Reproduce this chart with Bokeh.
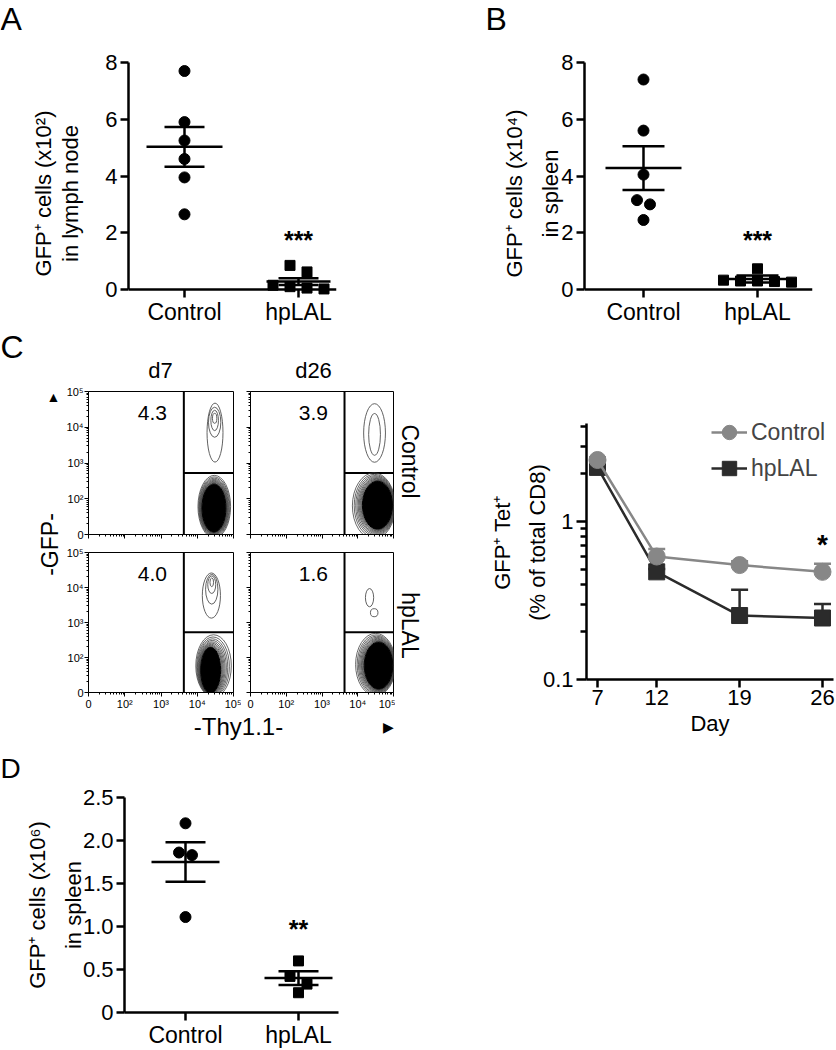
import numpy as np
from bokeh.plotting import figure
from bokeh.models import (Range1d, FixedTicker, Label, Legend, LegendItem,
                          Whisker, TeeHead, ColumnDataSource)
from bokeh.layouts import row, column
from bokeh.embed import file_html
from bokeh.resources import INLINE

FONT = "Liberation Sans"
GRAY = "#878787"
DARK = "#2b2b2b"

# ---------------- data ----------------
groups = ["Control", "hpLAL"]

a_ctrl = [7.7, 5.9, 5.25, 4.6, 3.95, 2.65]
a_hp = [0.85, 0.62, 0.15, 0.10, 0.05, 0.02]
a_mean = [5.03, 0.28]
a_sem = [0.70, 0.12]

b_ctrl = [7.4, 5.6, 4.05, 3.15, 3.0, 2.45]
b_hp = [0.73, 0.33, 0.30, 0.30, 0.28, 0.26]
b_mean = [4.28, 0.37]
b_sem = [0.77, 0.12]

d_ctrl = [2.2, 1.86, 1.83, 1.11]
d_hp = [0.60, 0.42, 0.33, 0.23]
d_mean = [1.75, 0.40]
d_sem = [0.23, 0.08]

days = [7, 12, 19, 26]
tet_ctrl = [2.45, 0.60, 0.53, 0.48]
tet_ctrl_up = [2.55, 0.67, 0.56, 0.54]
tet_hp = [2.20, 0.48, 0.254, 0.245]
tet_hp_up = [2.30, 0.50, 0.37, 0.30]

flow_days = ["d7", "d26"]
flow_rows = ["Control", "hpLAL"]
flow_pct = [["4.3", "3.9"], ["4.0", "1.6"]]
flow_tick_labels = ["0", "10²", "10³", "10⁴", "10⁵"]
gate_x = 2.63
gate_y = 1.72
# contour ellipses (cx, cy, w, h) in decade units
up_d7_ctrl = [(3.49, 2.85, 0.44, 1.65), (3.48, 3.14, 0.34, 0.84),
              (3.48, 3.19, 0.21, 0.57), (3.48, 3.25, 0.12, 0.28)]
lo_d7_ctrl = [(3.47, 0.78, 0.90, 1.75), (3.46, 0.74, 0.66, 1.35)]
up_d26_ctrl = [(3.47, 2.84, 0.61, 1.64), (3.47, 2.80, 0.33, 1.17)]
lo_d26_ctrl = [(3.45, 0.80, 1.20, 1.85), (3.55, 0.82, 0.84, 1.35)]
up_d7_hp = [(3.39, 2.77, 0.50, 1.29), (3.40, 2.95, 0.34, 0.85),
            (3.40, 3.08, 0.22, 0.50), (3.40, 3.15, 0.10, 0.25)]
lo_d7_hp = [(3.45, 0.76, 0.98, 1.78), (3.37, 0.64, 0.55, 1.32)]
up_d26_hp = [(3.33, 2.71, 0.23, 0.52), (3.46, 2.28, 0.21, 0.23)]
lo_d26_hp = [(3.50, 0.80, 1.12, 1.78), (3.58, 0.77, 0.80, 1.35)]


# ---------------- helpers ----------------
def swarm(vals, ppu_y, ppu_x, d, thr):
    vals = np.asarray(vals, float)
    order = np.argsort(-vals)
    offs = np.zeros(len(vals))
    clusters, cur = [], [order[0]]
    for i in order[1:]:
        if abs(vals[cur[-1]] - vals[i]) * ppu_y < thr:
            cur.append(i)
        else:
            clusters.append(cur)
            cur = [i]
    clusters.append(cur)
    for c in clusters:
        n = len(c)
        for k, i in enumerate(c):
            offs[i] = (k - (n - 1) / 2) * d / ppu_x
    return offs


def base_fig(W, H, bl, br, bt, bb, xr, yr, **kw):
    p = figure(width=W, height=H, x_range=Range1d(*xr), y_range=Range1d(*yr),
               output_backend="svg", toolbar_location=None, title=None,
               min_border_left=bl, min_border_right=br, min_border_top=bt,
               min_border_bottom=bb, frame_align=False, **kw)
    p.grid.visible = False
    p.outline_line_color = None
    return p


def blank_fig(W, H):
    p = figure(width=W, height=H, x_range=Range1d(0, 1), y_range=Range1d(0, 1),
               x_axis_type=None, y_axis_type=None, min_border=0,
               min_border_left=0, min_border_right=0, min_border_top=0,
               min_border_bottom=0, frame_align=False,
               output_backend="svg", toolbar_location=None, title=None)
    p.grid.visible = False
    p.outline_line_color = None
    return p


def lab(p, x, y, text, size, units="screen", align="center", baseline="middle",
        angle=0.0, style="normal", color="black"):
    p.add_layout(Label(x=x, y=y, x_units=units, y_units=units, text=text,
                       text_font=FONT, text_font_size=size, text_align=align,
                       text_baseline=baseline, angle=angle, text_font_style=style,
                       text_color=color))


def style_axis(ax, lw=2.5, tick=8, lh=1.1):
    ax.axis_line_width = lw
    ax.axis_line_color = "black"
    ax.major_tick_line_width = lw
    ax.major_tick_line_color = "black"
    ax.major_tick_out = tick
    ax.major_tick_in = 0
    ax.major_label_text_font = FONT
    ax.major_label_text_color = "black"
    ax.axis_label_text_font = FONT
    ax.axis_label_text_font_style = "normal"
    ax.axis_label_text_font_size = "22px"
    ax.axis_label_text_color = "black"
    ax.axis_label_text_line_height = lh


def dot_panel(ctrl, hp, mean, sem, mean_w, sem_w, yticks, yover, ylabel, stars,
              star_y, W, H, bl, br, bt, bb, xr, yr, ybounds, ppu_x, ppu_y,
              ylab_standoff, ylab_lh):
    p = base_fig(W, H, bl, br, bt, bb, xr, yr)
    xa, ya = p.xaxis[0], p.yaxis[0]
    style_axis(xa)
    style_axis(ya, lh=ylab_lh)
    xa.ticker = FixedTicker(ticks=[1, 2])
    xa.major_label_overrides = {1: groups[0], 2: groups[1]}
    xa.minor_tick_line_color = None
    xa.major_label_text_font_size = "23px"
    xa.major_label_standoff = 1
    ya.ticker = FixedTicker(ticks=yticks)
    ya.minor_tick_line_color = None
    if yover:
        ya.major_label_overrides = yover
    ya.bounds = ybounds
    ya.major_label_text_font_size = "22px"
    ya.major_label_standoff = 3
    ya.axis_label = ylabel
    ya.axis_label_standoff = ylab_standoff
    if yr[0] < 0:
        xa.fixed_location = 0

    cx = 1 + swarm(ctrl, ppu_y, ppu_x, 13, 9)
    hx = 2 + swarm(hp, ppu_y, ppu_x, 17, 8)
    p.scatter(cx, ctrl, marker="circle", size=11, color="black")
    p.scatter(hx, hp, marker="square", size=10, color="black")
    lo = [m - s for m, s in zip(mean, sem)]
    hi = [m + s for m, s in zip(mean, sem)]
    p.segment(x0=[1, 2], y0=lo, x1=[1, 2], y1=hi, line_width=2.5, line_color="black")
    p.scatter([1, 2], mean, marker="dash", size=mean_w, line_width=2.5,
              line_color="black")
    p.scatter([1, 2, 1, 2], lo + hi, marker="dash", size=sem_w + sem_w,
              line_width=2.5, line_color="black")
    lab(p, 2, star_y, stars, "25px", units="data", style="bold")
    return p


# ---------------- row 1: panels A and B ----------------
strip_AB = blank_fig(836, 36)
lab(strip_AB, 0, 18, "A", "32px", align="left")
lab(strip_AB, 485, 18, "B", "32px", align="left")

pA = dot_panel(a_ctrl, a_hp, a_mean, a_sem, [76, 64], [40, 40],
               [0, 2, 4, 6, 8], None, "GFP⁺ cells (x10²)\nin lymph node",
               "***", 1.73,
               420, 292, 128, 84, 26, 4, (0.5088, 2.3333), (-1.233, 8.0), (0, 8),
               114.0, 28.375, 19, 1.1)

pB = dot_panel(b_ctrl, b_hp, b_mean, b_sem, [76, 70], [42, 42],
               [0, 2, 4, 6, 8], None, "GFP⁺ cells (x10⁴)\nin spleen",
               "***", 1.73,
               416, 292, 164, 24, 26, 4, (0.4825, 2.4825), (-1.233, 8.0), (0, 8),
               114.0, 28.375, -5, 1.45)

# ---------------- panel C: flow plots ----------------
flow_minor = [d + float(np.log10(k)) for d in range(4) for k in range(2, 10)]


def flow_fig(W, H, bl, br, bt, bb, up, lo, pct, show_x, show_y):
    p = base_fig(W, H, bl, br, bt, bb, (0, 4), (0, 4))
    p.outline_line_color = "black"
    p.outline_line_width = 1
    for ax, show in ((p.xaxis[0], show_x), (p.yaxis[0], show_y)):
        style_axis(ax, lw=1, tick=4)
        ax.ticker = FixedTicker(ticks=[0, 1, 2, 3, 4], minor_ticks=flow_minor)
        ax.minor_tick_line_color = "black"
        ax.minor_tick_line_width = 1
        ax.minor_tick_out = 2
        ax.minor_tick_in = 0
        ax.major_label_overrides = {i: (flow_tick_labels[i] if show else "")
                                    for i in range(5)}
        ax.major_label_text_font_size = "11px" if show else "1px"
        ax.major_label_standoff = 1 if show else 0
    # gates
    p.segment(x0=[gate_x, gate_x], y0=[0, gate_y], x1=[gate_x, 4], y1=[4, gate_y],
              line_width=2, line_color="black")
    # upper (GFP+) population contours
    p.ellipse(x=[e[0] for e in up], y=[e[1] for e in up],
              width=[e[2] for e in up], height=[e[3] for e in up],
              fill_color=None, line_color="#505050", line_width=0.9)
    # lower population: rings from outer contour to dense core
    o, c = np.array(lo[0]), np.array(lo[1])
    ts = [0.0, 0.18, 0.33, 0.46, 0.58, 0.68, 0.77, 0.85, 0.92]
    rings = [o * (1 - t) + c * t for t in ts]
    p.ellipse(x=[r[0] for r in rings], y=[r[1] for r in rings],
              width=[r[2] for r in rings], height=[r[3] for r in rings],
              fill_color=None, line_color="#404040", line_width=0.8)
    p.ellipse(x=[c[0]], y=[c[1]], width=[c[2]], height=[c[3]],
              fill_color="black", line_color="black")
    lab(p, 1.76, 3.4, pct, "21px", units="data")
    return p


TL = flow_fig(178, 159, 25, 8, 7, 9, up_d7_ctrl, lo_d7_ctrl, flow_pct[0][0], False, True)
TR = flow_fig(154, 159, 9, 2, 7, 9, up_d26_ctrl, lo_d26_ctrl, flow_pct[0][1], False, False)
BL = flow_fig(178, 169, 25, 8, 9, 18, up_d7_hp, lo_d7_hp, flow_pct[1][0], True, True)
BR = flow_fig(154, 169, 9, 2, 9, 18, up_d26_hp, lo_d26_hp, flow_pct[1][1], True, False)

left_strip = blank_fig(63, 384)
lab(left_strip, 0, 366, "C", "32px", align="left")
lab(left_strip, 53, 316, "▲", "14px")
lab(left_strip, 49, 168, "-GFP-", "23px", angle=np.pi / 2)

top_strip = blank_fig(332, 56)
lab(top_strip, 97, 14, flow_days[0], "22px")
lab(top_strip, 250, 14, flow_days[1], "22px")

right_strip = blank_fig(35, 384)
lab(right_strip, 14, 251, flow_rows[0], "23px", angle=-np.pi / 2)
lab(right_strip, 14, 87, flow_rows[1], "23px", angle=-np.pi / 2)

bottom_strip = blank_fig(430, 40)
lab(bottom_strip, 238, 26, "-Thy1.1-", "24px")
lab(bottom_strip, 388, 26, "▶", "14px")

# ---------------- panel C: time course ----------------
pL = base_fig(406, 424, 156, 3, 77, 73, (6.071, 26.929), (0.1, 5.42),
              y_axis_type="log")
xa, ya = pL.xaxis[0], pL.yaxis[0]
style_axis(xa, tick=8)
style_axis(ya, tick=10, lh=1.38)
xa.ticker = FixedTicker(ticks=days)
xa.minor_tick_line_color = None
xa.major_label_text_font_size = "22px"
xa.major_label_standoff = 2
xa.axis_label = "Day"
xa.axis_label_standoff = 3
ya.ticker = FixedTicker(ticks=[0.1, 1],
                        minor_ticks=[0.2, 0.3, 0.4, 0.5, 0.6, 0.7, 0.8, 0.9, 2, 3, 4])
ya.bounds = (0.1, 4.17)
ya.major_label_overrides = {0.1: "0.1", 1: "1"}
ya.minor_tick_line_color = "black"
ya.minor_tick_line_width = 2.5
ya.minor_tick_out = 6
ya.minor_tick_in = 0
ya.major_label_text_font_size = "22px"
ya.major_label_standoff = 3
ya.axis_label = "GFP⁺ Tet⁺\n(% of total CD8)"
ya.axis_label_standoff = -10

src_hp = ColumnDataSource(dict(day=days, m=tet_hp, up=tet_hp_up))
src_c = ColumnDataSource(dict(day=days, m=tet_ctrl, up=tet_ctrl_up))
pL.add_layout(Whisker(base="day", lower="m", upper="up", source=src_hp,
                      line_color=DARK, line_width=2.5, lower_head=None,
                      upper_head=TeeHead(size=17, line_color=DARK, line_width=2.5)))
pL.add_layout(Whisker(base="day", lower="m", upper="up", source=src_c,
                      line_color=GRAY, line_width=2.5, lower_head=None,
                      upper_head=TeeHead(size=17, line_color=GRAY, line_width=2.5)))
r_hl = pL.line("day", "m", source=src_hp, line_color=DARK, line_width=2.5)
r_hm = pL.scatter("day", "m", source=src_hp, marker="square", size=16, color=DARK)
r_cl = pL.line("day", "m", source=src_c, line_color=GRAY, line_width=2.5)
r_cm = pL.scatter("day", "m", source=src_c, marker="circle", size=17, color=GRAY)
lab(pL, 26, 0.715, "*", "28px", units="data", style="bold")

legend = Legend(items=[LegendItem(label=groups[0], renderers=[r_cl, r_cm]),
                       LegendItem(label=groups[1], renderers=[r_hl, r_hm])],
                location=(125, 193), glyph_width=36, glyph_height=36,
                label_text_font=FONT, label_text_font_size="23px",
                label_standoff=4, padding=0, spacing=0, margin=0,
                border_line_color=None, background_fill_alpha=0)
pL.add_layout(legend)

# ---------------- panel D ----------------
strip_D = blank_fig(420, 32)
lab(strip_D, 0, 16, "D", "28px", align="left")

pD = dot_panel(d_ctrl, d_hp, d_mean, d_sem, [68, 68], [40, 40],
               [0, 0.5, 1.0, 1.5, 2.0, 2.5],
               {0: "0", 0.5: "0.5", 1: "1.0", 1.5: "1.5", 2: "2.0", 2.5: "2.5"},
               "GFP⁺ cells (x10⁶)\nin spleen", "**", 0.974,
               420, 266, 124, 82, 13, 34, (0.4602, 2.354), (0.0, 2.5), (0, 2.5),
               113.0, 87.6, -6, 1.45)

# ---------------- layout ----------------
flow_mid = column(top_strip, row(TL, TR), row(BL, BR))
flow_block = column(row(left_strip, flow_mid, right_strip), bottom_strip)
root = column(strip_AB, row(pA, pB), row(flow_block, pL), strip_D, pD)

open("out.html", "w").write(file_html(root, INLINE))
